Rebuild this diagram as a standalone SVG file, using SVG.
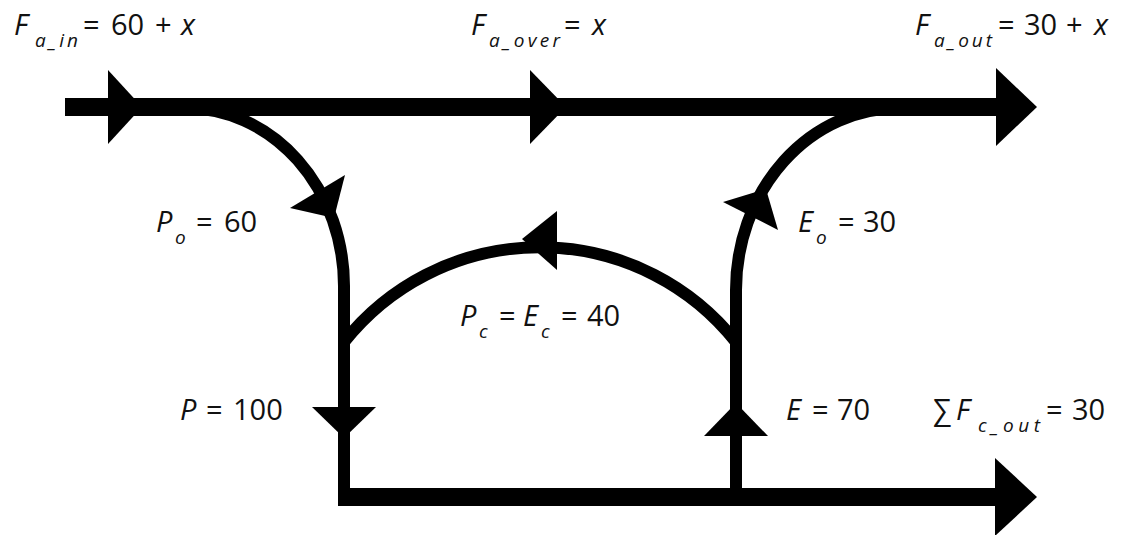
<svg xmlns="http://www.w3.org/2000/svg" width="1130" height="535" viewBox="0 0 1130 535">
<style>
.main{fill:none;stroke:#000;stroke-width:18;stroke-linecap:butt}
.thin{fill:none;stroke:#000;stroke-width:12;stroke-linecap:butt}
.ah{fill:#000;stroke:none}
text{font-family:"Open Sans","DejaVu Sans",sans-serif;fill:#111}
.t{font-size:29px}
.s{font-size:19px;font-style:italic}
.i{font-style:italic}
</style>
<rect width="1130" height="535" fill="#fff"/>
<g id="connectors">
<path class="main" d="M65 107 H998"/>
<path class="main" d="M338 497 H997"/>
<path class="thin" d="M186 108 A158 178 0 0 1 344 286 V497"/>
<path class="thin" d="M736 497 V290 A163 182 0 0 1 899 108"/>
<path class="thin" d="M344 342 A250 250 0 0 1 736 342"/>
<polygon class="ah" points="108,70 142,107 108,144"/>
<polygon class="ah" points="530,70 566,107 530,144"/>
<polygon class="ah" points="996,68 1037,107 996,146"/>
<polygon class="ah" points="995,458 1037,497 995,536"/>
<polygon class="ah" points="312,407 376,407 344,438"/>
<polygon class="ah" points="704,436 768,436 736,403"/>
<polygon class="ah" points="345,175 290,208 334,218"/>
<polygon class="ah" points="723,202 778,230 766,189"/>
<polygon class="ah" points="557,211 557,270 522,239"/>
</g>
<g id="label-fa-in">
<text class="t i" x="14" y="35">F</text>
<text class="s" x="35" y="47" textLength="43" lengthAdjust="spacing">a_in</text>
<text class="t" y="35"><tspan x="83">=</tspan><tspan x="111">60</tspan><tspan x="155">+</tspan><tspan class="i" x="181">x</tspan></text>
</g>
<g id="label-fa-over">
<text class="t i" x="471" y="35">F</text>
<text class="s" x="489" y="47" textLength="71" lengthAdjust="spacing">a_over</text>
<text class="t" y="35"><tspan x="564">=</tspan><tspan class="i" x="592">x</tspan></text>
</g>
<g id="label-fa-out">
<text class="t i" x="915" y="35">F</text>
<text class="s" x="934" y="47" textLength="58" lengthAdjust="spacing">a_out</text>
<text class="t" y="35"><tspan x="998">=</tspan><tspan x="1024">30</tspan><tspan x="1066">+</tspan><tspan class="i" x="1094">x</tspan></text>
</g>
<g id="label-po">
<text class="t i" x="156" y="232">P</text>
<text class="s" x="175" y="244">o</text>
<text class="t" y="232"><tspan x="196">=</tspan><tspan x="224">60</tspan></text>
</g>
<g id="label-eo">
<text class="t i" x="798" y="232">E</text>
<text class="s" x="816" y="244">o</text>
<text class="t" y="232"><tspan x="838">=</tspan><tspan x="863">30</tspan></text>
</g>
<g id="label-pc-ec">
<text class="t i" x="460" y="326">P</text>
<text class="s" x="479" y="338">c</text>
<text class="t" x="499" y="326">=</text>
<text class="t i" x="523" y="326">E</text>
<text class="s" x="541" y="338">c</text>
<text class="t" y="326"><tspan x="561">=</tspan><tspan x="587">40</tspan></text>
</g>
<g id="label-p">
<text class="t i" x="180" y="420">P</text>
<text class="t" y="420"><tspan x="206">=</tspan><tspan x="233">100</tspan></text>
</g>
<g id="label-e">
<text class="t i" x="786" y="420">E</text>
<text class="t" y="420"><tspan x="812">=</tspan><tspan x="837">70</tspan></text>
</g>
<g id="label-fc-out">
<text class="t" x="933" y="420">∑</text>
<text class="t i" x="956" y="420">F</text>
<text class="s" x="978" y="432" textLength="62" lengthAdjust="spacing">c_out</text>
<text class="t" y="420"><tspan x="1046">=</tspan><tspan x="1072">30</tspan></text>
</g>
</svg>
